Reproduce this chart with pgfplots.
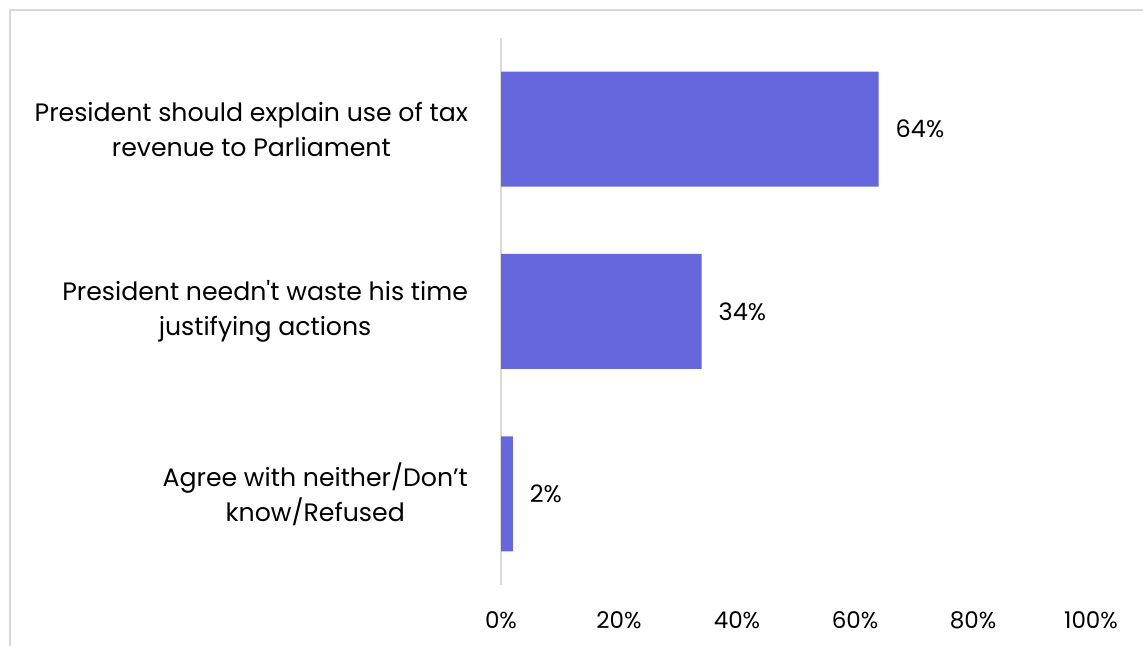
\documentclass[border=0pt]{standalone}
\usepackage{pgfplots}
\pgfplotsset{compat=1.18}
\usepackage{fontspec}
\setmainfont{Poppins}[Ligatures=TeXOff]
\definecolor{barc}{HTML}{6666DD}
\definecolor{axc}{HTML}{D9D9D9}
\begin{document}
\begin{tikzpicture}[x=1pt,y=1pt]
\useasboundingbox (0,0) rectangle (571.5,323);
\draw[axc, line width=0.8pt] (5,0) -- (5,318) -- (571.5,318);
\begin{axis}[
  at={(250.5pt,30.5pt)}, anchor=south west,
  scale only axis, width=295pt, height=273.5pt,
  xbar, bar width=57.5pt,
  xmin=0, xmax=100, ymin=-0.5, ymax=2.5,
  ytick={0,1,2},
  yticklabels={{Agree with neither/Don’t\\know/Refused},{President needn't waste his time\\justifying actions},{President should explain use of tax\\revenue to Parliament}},
  xtick={0,20,40,60,80,100},
  xticklabel={\pgfmathprintnumber{\tick}\%},
  /pgf/number format/assume math mode=true,
  axis lines*=left,
  x axis line style={draw=none},
  y axis line style={draw=axc, line width=1pt, -},
  major tick length=0pt,
  tick style={draw=none},
  xticklabel style={anchor=center, yshift=-17.5pt, font=\fontsize{11.5}{13}\selectfont},
  yticklabel style={anchor=east, xshift=-13pt, align=center, font=\fontsize{12.6}{17.5}\selectfont},
  nodes near coords={\pgfmathprintnumber{\pgfplotspointmeta}\%},
  nodes near coords style={anchor=west, xshift=5pt, font=\fontsize{12}{14}\selectfont, text=black},
  point meta=x,
]
\addplot[fill=barc, draw=none] coordinates {(2,0) (34,1) (64,2)};
\end{axis}
\end{tikzpicture}
\end{document}
